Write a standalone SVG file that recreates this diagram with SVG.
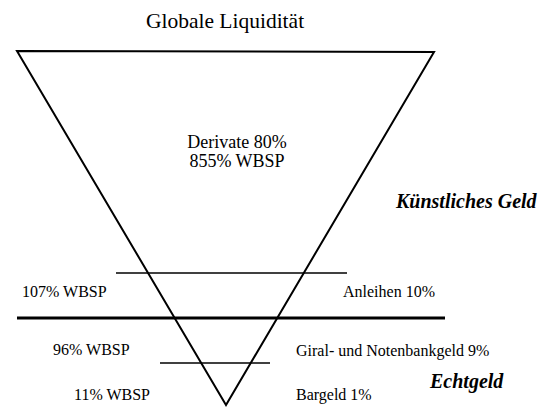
<svg xmlns="http://www.w3.org/2000/svg" width="553" height="407" viewBox="0 0 553 407">
<style>
text{font-family:"Liberation Serif","Times New Roman",serif;fill:#000}
.t{font-size:16px}
.bi{font-size:20px;font-weight:bold;font-style:italic}
.ln{stroke:#000;fill:none}
</style>
<rect width="553" height="407" fill="#fff"/>
<text x="225" y="28" text-anchor="middle" style="font-size:21.5px">Globale Liquidität</text>
<g id="funnel">
<polygon class="ln" points="17,51 434,52 226,405" stroke-width="2" stroke-linejoin="miter"/>
</g>
<g id="connectors">
<line class="ln" x1="116" y1="273" x2="347" y2="273" stroke-width="1.5"/>
<line class="ln" x1="17" y1="318" x2="445" y2="318" stroke-width="3"/>
<line class="ln" x1="160" y1="363" x2="270" y2="363" stroke-width="1.5"/>
</g>
<g id="derivate">
<text x="237" y="148" text-anchor="middle" style="font-size:18px">Derivate 80%</text>
<text x="237" y="167" text-anchor="middle" style="font-size:18px">855% WBSP</text>
</g>
<g id="kuenstlich"><text class="bi" x="396" y="208">Künstliches Geld</text></g>
<g id="anleihen">
<text class="t" x="22" y="297">107% WBSP</text>
<text class="t" x="343" y="297">Anleihen 10%</text>
</g>
<g id="giral">
<text class="t" x="53" y="355">96% WBSP</text>
<text class="t" x="296" y="356">Giral- und Notenbankgeld 9%</text>
</g>
<g id="echtgeld"><text class="bi" x="430" y="388">Echtgeld</text></g>
<g id="bargeld">
<text class="t" x="74" y="400">11% WBSP</text>
<text class="t" x="296" y="400">Bargeld 1%</text>
</g>
</svg>
